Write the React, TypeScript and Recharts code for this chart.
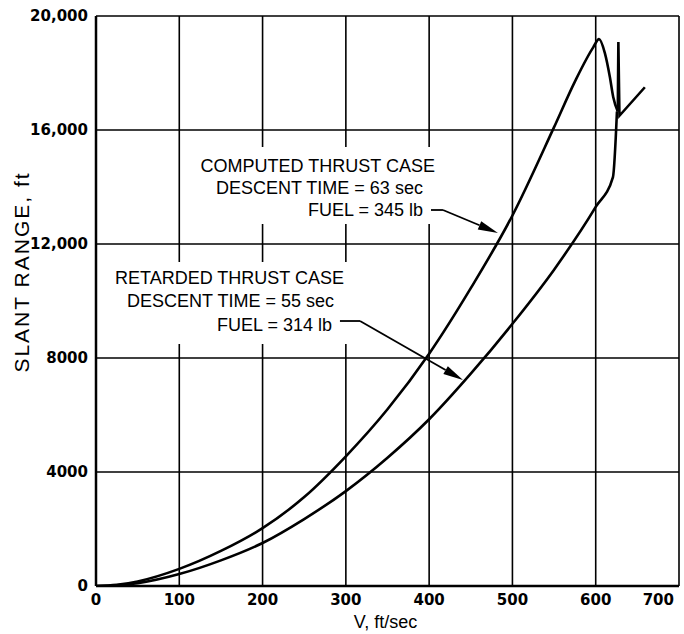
import React from "react";
import {
  LineChart,
  Line,
  XAxis,
  YAxis,
  CartesianGrid,
  ReferenceArea,
  ReferenceLine,
  ReferenceDot,
  Label,
} from "recharts";

// Axis ticks
const xTicks = [0, 100, 200, 300, 400, 500, 600, 700];
const yTicks = [0, 4000, 8000, 12000, 16000, 20000];
const yTickLabels = ["0", "4000", "8000", "12,000", "16,000", "20,000"];

// Computed thrust case (upper curve)
const computedV = [0, 25, 50, 100, 150, 200, 250, 300, 350, 400, 450, 500, 550, 575, 597, 604, 611, 617, 621, 626.5];
const computedRange = [0, 40, 160, 600, 1230, 2030, 3120, 4550, 6200, 8150, 10450, 13000, 16100, 17700, 18900, 19190, 18700, 17860, 17160, 16650];
// the spike and short tail at the end of the computed case
const computedTailV = [626.5, 627.2, 628.5, 659];
const computedTailRange = [16650, 19090, 16500, 17500];

// Retarded thrust case (lower curve)
const retardedV = [0, 25, 50, 100, 150, 200, 250, 300, 350, 400, 450, 500, 550, 600, 620.7, 625.5];
const retardedRange = [0, 25, 100, 420, 900, 1510, 2350, 3330, 4500, 5850, 7450, 9200, 11100, 13300, 14350, 16650];

const zip = (xs: number[], ys: number[]) => xs.map((x, i) => ({ x, y: ys[i] }));

const computed = zip(computedV, computedRange);
const computedTail = zip(computedTailV, computedTailRange);
const retarded = zip(retardedV, retardedRange);

// Annotation text, anchored at its right end, baseline at the given value
const notes = [
  { v: 407, r: 14526, text: "COMPUTED THRUST CASE" },
  { v: 392.5, r: 13754, text: "DESCENT TIME = 63 sec" },
  { v: 392.6, r: 12982, text: "FUEL = 345 lb" },
  { v: 297.8, r: 10596, text: "RETARDED THRUST CASE" },
  { v: 285.7, r: 9789, text: "DESCENT TIME = 55 sec" },
  { v: 283.3, r: 8947, text: "FUEL = 314 lb" },
];

// Blank patches behind the note blocks (grid is broken there)
const noteBoxes = [
  { v1: 104, v2: 415, r1: 12700, r2: 15400 },
  { v1: 7, v2: 307, r1: 8490, r2: 11370 },
];

// Leader lines: [start, bend, tip]
const leaders = [
  [{ x: 402.2, y: 13193 }, { x: 416.6, y: 13193 }, { x: 482.6, y: 12386 }],
  [{ x: 292.9, y: 9298 }, { x: 317, y: 9298 }, { x: 440.6, y: 7228 }],
];

const INK = "#000";
const noteFont = "'Liberation Sans', Arial, sans-serif";

const PlainSeg = (p: any) => (
  <line x1={p.x1} y1={p.y1} x2={p.x2} y2={p.y2} stroke={INK} strokeWidth={1.8} />
);

const ArrowSeg = (p: any) => {
  const dx = p.x2 - p.x1;
  const dy = p.y2 - p.y1;
  const len = Math.sqrt(dx * dx + dy * dy) || 1;
  const ux = dx / len;
  const uy = dy / len;
  const hl = 20;
  const hw = 4.5;
  const bx = p.x2 - ux * hl;
  const by = p.y2 - uy * hl;
  const pts = `${p.x2},${p.y2} ${bx - uy * hw},${by + ux * hw} ${bx + uy * hw},${by - ux * hw}`;
  return (
    <g>
      <line x1={p.x1} y1={p.y1} x2={bx} y2={by} stroke={INK} strokeWidth={1.8} />
      <polygon points={pts} fill={INK} />
    </g>
  );
};

const YTitle = (props: any) => {
  const vb = props.viewBox;
  const x = vb.x + 21;
  const y = vb.y + 256;
  return (
    <text
      x={x}
      y={y}
      transform={`rotate(-90 ${x} ${y})`}
      textAnchor="middle"
      dominantBaseline="central"
      fontFamily={noteFont}
      fontSize={21}
      letterSpacing={2}
      fill={INK}
    >
      SLANT RANGE, ft
    </text>
  );
};

const XTitle = (props: any) => {
  const vb = props.viewBox;
  return (
    <text
      x={vb.x + vb.width / 2 - 2}
      y={vb.y + 42}
      textAnchor="middle"
      fontFamily={noteFont}
      fontSize={18}
      fill={INK}
    >
      V, ft/sec
    </text>
  );
};

const tickStyle = {
  fontFamily: "'DejaVu Sans', sans-serif",
  fontWeight: 700,
  fontSize: 15,
  fill: INK,
};

// last x label sits inside the frame, like the original
const XTick = (p: any) => {
  const last = p.payload.value === xTicks[xTicks.length - 1];
  return (
    <text
      x={last ? p.x + 2 : p.x}
      y={p.y}
      dy="0.72em"
      textAnchor={last ? "end" : "middle"}
      {...tickStyle}
    >
      {p.payload.value}
    </text>
  );
};

export default function App() {
  return (
    <div style={{ position: "absolute", left: 0, top: 0, background: "#fff" }}>
      <LineChart width={684} height={634} margin={{ top: 16, right: 5, left: 0, bottom: 0 }}>
        <CartesianGrid stroke={INK} strokeWidth={1.6} />
        <XAxis
          dataKey="x"
          type="number"
          domain={[0, 700]}
          ticks={xTicks}
          allowDataOverflow
          tickLine={false}
          axisLine={{ stroke: INK, strokeWidth: 2.5 }}
          tick={XTick}
          height={48}
        >
          <Label content={XTitle} />
        </XAxis>
        <YAxis
          type="number"
          domain={[0, 20000]}
          ticks={yTicks}
          allowDataOverflow
          tickLine={false}
          axisLine={{ stroke: INK, strokeWidth: 2.5 }}
          tick={tickStyle}
          tickFormatter={(v: number) => yTickLabels[yTicks.indexOf(v)]}
          width={96}
        >
          <Label content={YTitle} />
        </YAxis>

        {noteBoxes.map((b, i) => (
          <ReferenceArea
            key={"box" + i}
            x1={b.v1}
            x2={b.v2}
            y1={b.r1}
            y2={b.r2}
            fill="#fff"
            fillOpacity={1}
            stroke="none"
            ifOverflow="visible"
          />
        ))}

        <Line
          data={computed}
          dataKey="y"
          type="monotone"
          stroke={INK}
          strokeWidth={2.6}
          dot={false}
          isAnimationActive={false}
        />
        <Line
          data={computedTail}
          dataKey="y"
          type="linear"
          stroke={INK}
          strokeWidth={2.6}
          dot={false}
          isAnimationActive={false}
        />
        <Line
          data={retarded}
          dataKey="y"
          type="monotone"
          stroke={INK}
          strokeWidth={2.6}
          dot={false}
          isAnimationActive={false}
        />

        {leaders.map((l, i) => (
          <ReferenceLine key={"la" + i} segment={[l[0], l[1]]} shape={PlainSeg} ifOverflow="visible" />
        ))}
        {leaders.map((l, i) => (
          <ReferenceLine key={"lb" + i} segment={[l[1], l[2]]} shape={ArrowSeg} ifOverflow="visible" />
        ))}

        {notes.map((n, i) => (
          <ReferenceDot
            key={"n" + i}
            x={n.v}
            y={n.r}
            r={0}
            ifOverflow="visible"
            shape={(p: any) => (
              <text
                x={p.cx}
                y={p.cy}
                textAnchor="end"
                fontFamily={noteFont}
                fontSize={18}
                fill={INK}
              >
                {n.text}
              </text>
            )}
          />
        ))}
      </LineChart>
    </div>
  );
}
